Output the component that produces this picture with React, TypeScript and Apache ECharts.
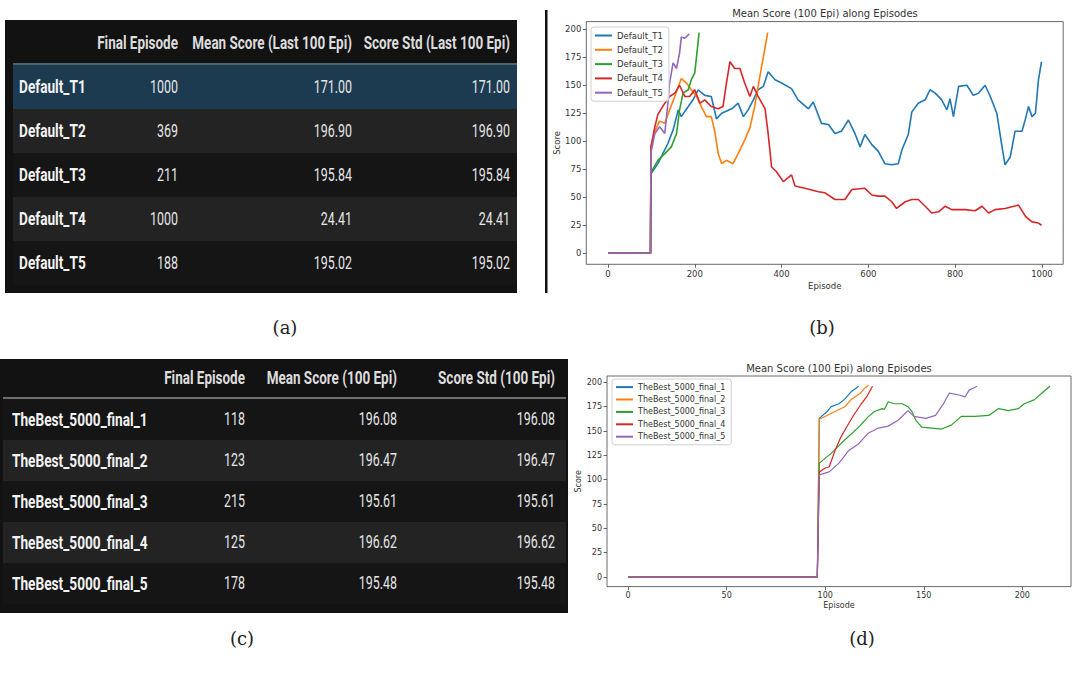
import React, { useEffect, useRef } from "react";
import * as echarts from "echarts";

const lineColors = ["#1f77b4", "#ff7f0e", "#2ca02c", "#d62728", "#9467bd"];

// ---------- Table (a) ----------
const headersA = ["Final Episode", "Mean Score (Last 100 Epi)", "Score Std (Last 100 Epi)"];
const namesA = ["Default_T1", "Default_T2", "Default_T3", "Default_T4", "Default_T5"];
const finalA = [1000, 369, 211, 1000, 188];
const meanA = [171.0, 196.9, 195.84, 24.41, 195.02];
const stdA = [171.0, 196.9, 195.84, 24.41, 195.02];

// ---------- Table (c) ----------
const headersC = ["Final Episode", "Mean Score (100 Epi)", "Score Std (100 Epi)"];
const namesC = ["TheBest_5000_final_1", "TheBest_5000_final_2", "TheBest_5000_final_3", "TheBest_5000_final_4", "TheBest_5000_final_5"];
const finalC = [118, 123, 215, 125, 178];
const meanC = [196.08, 196.47, 195.61, 196.62, 195.48];
const stdC = [196.08, 196.47, 195.61, 196.62, 195.48];

// ---------- Chart (b): [episode, mean score] ----------
const t1: number[][] = [[0,0],[98,0],[99,71],[115,80],[138,98],[150,110],[162,128],[169,122],[185,131],[196,137],[208,146],[223,141],[238,140],[250,120],[262,125],[285,129],[300,134],[312,122],[323,128],[335,137],[346,146],[358,149],[369,162],[385,155],[400,152],[423,147],[438,137],[462,129],[473,135],[492,116],[508,115],[523,107],[538,109],[554,119],[569,107],[581,95],[592,106],[608,97],[623,91],[638,80],[654,79],[669,80],[677,92],[692,106],[700,126],[715,134],[731,137],[742,146],[754,143],[769,137],[781,128],[788,138],[796,122],[808,149],[827,150],[842,141],[854,143],[869,150],[881,140],[896,125],[908,95],[915,79],[927,86],[938,109],[954,109],[962,120],[969,131],[977,122],[985,125],[992,155],[999,171]];
const t2: number[][] = [[0,0],[98,0],[99,95],[108,109],[119,118],[131,116],[142,128],[154,140],[169,156],[181,152],[192,146],[204,140],[215,131],[227,122],[238,122],[246,109],[254,89],[262,80],[273,83],[288,80],[300,89],[315,101],[327,112],[338,131],[350,158],[368,197]];
const t3: number[][] = [[0,0],[98,0],[99,72],[115,83],[131,89],[146,95],[158,107],[165,128],[173,143],[185,146],[192,155],[200,161],[210,197]];
const t4: number[][] = [[0,0],[98,0],[99,95],[108,113],[115,124],[131,134],[142,140],[154,143],[165,150],[177,140],[188,140],[200,146],[212,134],[223,137],[238,131],[254,129],[265,131],[273,152],[281,171],[292,165],[304,165],[315,152],[327,140],[335,149],[346,140],[362,129],[369,107],[377,77],[388,73],[404,64],[423,70],[431,60],[454,58],[485,55],[500,54],[523,48],[546,48],[562,57],[592,58],[608,52],[623,51],[638,51],[654,46],[665,40],[685,46],[700,48],[715,48],[731,42],[746,36],[762,37],[777,42],[792,39],[823,39],[846,38],[862,42],[877,36],[892,39],[915,40],[946,43],[962,33],[977,28],[992,27],[999,25]];
const t5: number[][] = [[0,0],[98,0],[99,90],[108,107],[119,113],[131,107],[138,134],[142,152],[150,170],[158,165],[165,179],[169,193],[177,192],[185,195],[187,196]];
const seriesB = [t1, t2, t3, t4, t5];

// ---------- Chart (d) ----------
const f1: number[][] = [[0,0],[96,0],[97,163],[101,170],[103,175],[107,178],[110,183],[113,190],[117,196]];
const f2: number[][] = [[0,0],[96,0],[97,162],[101,166],[105,170],[110,175],[113,182],[118,189],[120,194],[122,197]];
const f3: number[][] = [[0,0],[96,0],[97,117],[103,127],[110,141],[117,154],[122,165],[125,170],[129,173],[130,172],[132,180],[135,178],[139,178],[142,175],[144,170],[146,161],[149,154],[154,153],[159,152],[164,156],[169,165],[176,165],[183,166],[188,173],[193,171],[198,173],[201,178],[206,182],[210,189],[214,196]];
const f4: number[][] = [[0,0],[96,0],[97,108],[100,112],[102,113],[105,130],[108,144],[112,158],[115,168],[118,177],[121,185],[124,196]];
const f5: number[][] = [[0,0],[96,0],[97,105],[102,108],[107,117],[112,130],[117,137],[122,148],[127,153],[132,155],[137,161],[142,171],[145,165],[151,163],[156,166],[160,178],[163,189],[168,187],[171,185],[173,192],[177,196]];
const seriesD = [f1, f2, f3, f4, f5];

const ticksBx = [0, 200, 400, 600, 800, 1000];
const ticksY = [0, 25, 50, 75, 100, 125, 150, 175, 200];
const ticksDx = [0, 50, 100, 150, 200];

const chartTitle = "Mean Score (100 Epi) along Episodes";
const captions = ["(a)", "(b)", "(c)", "(d)"];

const TFONT = "Roboto, 'Open Sans', sans-serif";
const MFONT = "'DejaVu Sans', sans-serif";

function tableElements(cfg: any) {
  const els: any[] = [];
  els.push({ type: "rect", silent: true, shape: { x: cfg.x0, y: cfg.y0, width: cfg.x1 - cfg.x0, height: cfg.y1 - cfg.y0 }, style: { fill: "#121212" } });
  cfg.names.forEach((_: string, i: number) => {
    const fill = cfg.highlightFirst && i === 0 ? "#1c3b51" : i % 2 === 1 ? "#232323" : "#151515";
    els.push({ type: "rect", silent: true, shape: { x: cfg.bandX0, y: cfg.rowTop + i * cfg.rowH, width: cfg.bandX1 - cfg.bandX0, height: cfg.rowH }, style: { fill } });
  });
  els.push({ type: "rect", silent: true, shape: { x: cfg.bandX0, y: cfg.rowTop - 2, width: cfg.bandX1 - cfg.bandX0, height: 2 }, style: { fill: cfg.lineColor } });
  cfg.headers.forEach((h: string, j: number) => {
    els.push({ type: "text", silent: true, x: cfg.colX[j], y: cfg.headerY, scaleX: 0.75, style: { text: h, fill: "#dcdcdc", fontSize: 18, fontWeight: "bold", fontFamily: TFONT, align: "right", verticalAlign: "middle" } });
  });
  cfg.names.forEach((n: string, i: number) => {
    const cy = cfg.rowTop + i * cfg.rowH + cfg.rowH / 2;
    els.push({ type: "text", silent: true, x: cfg.labelX, y: cy, scaleX: 0.76, style: { text: n, fill: "#f2f2f2", fontSize: 18, fontWeight: "bold", fontFamily: TFONT, align: "left", verticalAlign: "middle" } });
    const vals = [String(cfg.final[i]), cfg.mean[i].toFixed(2), cfg.std[i].toFixed(2)];
    vals.forEach((v, j) => {
      els.push({ type: "text", silent: true, x: cfg.colX[j], y: cy, scaleX: 0.69, style: { text: v, fill: "#e6e6e6", fontSize: 18, fontFamily: TFONT, align: "right", verticalAlign: "middle" } });
    });
  });
  return els;
}

function axisPair(gridIndex: number, xmin: number, xmax: number, xticks: number[], ymin: number, ymax: number, fs: number, xGap: number, yGap: number) {
  const common = {
    gridIndex,
    type: "value" as const,
    axisLine: { show: false, onZero: false },
    splitLine: { show: false },
    nameLocation: "middle" as const,
    nameTextStyle: { fontSize: fs, color: "#333", fontFamily: MFONT },
  };
  const fmt = (v: number) => String(v);
  const x = {
    ...common,
    position: "bottom" as const,
    min: xmin, max: xmax, name: "Episode", nameGap: xGap,
    axisTick: { show: true, customValues: xticks, length: 3.5, lineStyle: { color: "#444", width: 0.8 } },
    axisLabel: { customValues: xticks, formatter: fmt, fontSize: fs, color: "#333", fontFamily: MFONT, margin: 5 },
  };
  const y = {
    ...common,
    position: "left" as const,
    min: ymin, max: ymax, name: "Score", nameGap: yGap,
    axisTick: { show: true, customValues: ticksY, length: 3.5, lineStyle: { color: "#444", width: 0.8 } },
    axisLabel: { customValues: ticksY, formatter: fmt, fontSize: fs, color: "#333", fontFamily: MFONT, margin: 5 },
  };
  return { x, y };
}

export default function App() {
  const ref = useRef<HTMLDivElement>(null);
  useEffect(() => {
    if (!ref.current) return;
    const chart = echarts.init(ref.current, undefined, { renderer: "svg" });
    const axB = axisPair(0, -49.95, 1048.95, ticksBx, -9.85, 206.85, 8.5, 17, 24);
    const axD = axisPair(1, -10.7, 224.7, ticksDx, -9.83, 206.5, 8, 15, 22);

    const tableA = tableElements({ x0: 5, y0: 20, x1: 517, y1: 293, bandX0: 13, bandX1: 517, rowTop: 65, rowH: 44, headerY: 43, colX: [178, 352, 510], labelX: 19, headers: headersA, names: namesA, final: finalA, mean: meanA, std: stdA, highlightFirst: true, lineColor: "#4f6270" });
    const tableC = tableElements({ x0: 0, y0: 359, x1: 568, y1: 613, bandX0: 3, bandX1: 566, rowTop: 399, rowH: 41, headerY: 378, colX: [245, 397, 555], labelX: 12, headers: headersC, names: namesC, final: finalC, mean: meanC, std: stdC, highlightFirst: false, lineColor: "#6e6e6e" });

    const capPos = [[285, 327], [822, 327], [242, 638], [862, 638]];
    const capEls = captions.map((c, i) => ({ type: "text", silent: true, x: capPos[i][0], y: capPos[i][1], style: { text: c, fill: "#222", fontSize: 18, fontFamily: "'DejaVu Serif', serif", align: "center", verticalAlign: "middle" } }));
    const titleEls = [[825, 13], [839, 368]].map((p) => ({ type: "text", silent: true, x: p[0], y: p[1], style: { text: chartTitle, fill: "#333", fontSize: 10, fontFamily: MFONT, align: "center", verticalAlign: "middle" } }));

    const legendBase = {
      orient: "vertical" as const,
      icon: "rect",
      itemWidth: 17,
      itemHeight: 2,
      borderColor: "#d0d0d0",
      borderWidth: 1,
      borderRadius: 3,
      backgroundColor: "rgba(255,255,255,0.8)",
    };

    chart.setOption({
      animation: false,
      backgroundColor: "#ffffff",
      grid: [
        { left: 586.3, top: 21.6, width: 476.9, height: 242.7, show: true, borderColor: "#444", borderWidth: 0.8, backgroundColor: "#fff", containLabel: false },
        { left: 607, top: 376, width: 464, height: 210.6, show: true, borderColor: "#444", borderWidth: 0.8, backgroundColor: "#fff", containLabel: false },
      ],
      xAxis: [axB.x, axD.x],
      yAxis: [axB.y, axD.y],
      legend: [
        { ...legendBase, data: namesA, left: 591, top: 27, itemGap: 3.3, padding: [3, 6, 3, 4], textStyle: { fontSize: 8.5, color: "#333", fontFamily: MFONT, lineHeight: 11 } },
        { ...legendBase, data: namesC, left: 612, top: 379, itemGap: 2.2, padding: [3, 6, 3, 4], textStyle: { fontSize: 8, color: "#333", fontFamily: MFONT, lineHeight: 10.2 } },
      ],
      series: [
        ...namesA.map((n, i) => ({ type: "line", name: n, xAxisIndex: 0, yAxisIndex: 0, data: seriesB[i], symbol: "none", showSymbol: false, lineStyle: { width: 1.6, color: lineColors[i] }, itemStyle: { color: lineColors[i] } })),
        ...namesC.map((n, i) => ({ type: "line", name: n, xAxisIndex: 1, yAxisIndex: 1, data: seriesD[i], symbol: "none", showSymbol: false, lineStyle: { width: 1.2, color: lineColors[i] }, itemStyle: { color: lineColors[i] } })),
      ],
      graphic: {
        elements: [
          ...tableA,
          ...tableC,
          { type: "rect", silent: true, shape: { x: 545, y: 10, width: 2.5, height: 283 }, style: { fill: "#111" } },
          ...capEls,
          ...titleEls,
        ],
      },
    });
    return () => chart.dispose();
  }, []);
  return <div ref={ref} style={{ position: "absolute", left: 0, top: 0, width: 1089, height: 675, background: "#fff" }} />;
}
